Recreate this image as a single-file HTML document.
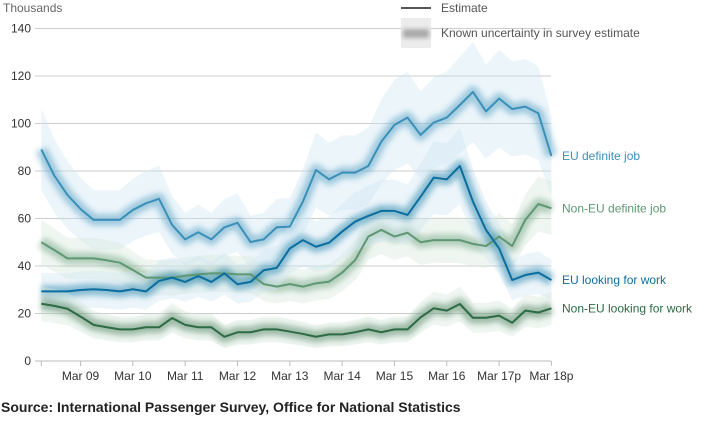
<!DOCTYPE html>
<html><head><meta charset="utf-8"><style>
body{margin:0;background:#fff;width:704px;height:427px;overflow:hidden;font-family:"Liberation Sans",sans-serif;}
svg text{font-family:"Liberation Sans",sans-serif;}
</style></head><body>
<svg id="chart" width="704" height="427" viewBox="0 0 704 427" xmlns="http://www.w3.org/2000/svg">
<defs>
<filter id="blur" x="-10%" y="-50%" width="120%" height="200%"><feGaussianBlur stdDeviation="3"/></filter>
<filter id="blur2" x="-10%" y="-50%" width="120%" height="200%"><feGaussianBlur stdDeviation="2"/></filter>
</defs>
<g id="grid"></g>
<g id="bands"></g>
<g id="lines"></g>
<g id="labels"></g>
<text x="3" y="12" font-size="12" fill="#666">Thousands</text>
<g>
<line x1="401" y1="8" x2="431" y2="8" stroke="#555" stroke-width="2"/>
<text x="441" y="12" font-size="12" fill="#555">Estimate</text>
<rect x="401" y="18" width="30" height="30" fill="#ececec"/>
<rect x="403" y="29" width="26" height="9" fill="#aaa" filter="url(#blur2)"/>
<text x="441" y="37" font-size="12" fill="#555">Known uncertainty in survey estimate</text>
</g>
<text x="1" y="412" font-size="14" font-weight="bold" fill="#222">Source: International Passenger Survey, Office for National Statistics</text>
</svg>
<script>
const yTicks=[0,20,40,60,80,100,120,140];
const xTickLabels=["Mar 09","Mar 10","Mar 11","Mar 12","Mar 13","Mar 14","Mar 15","Mar 16","Mar 17p","Mar 18p"];
const seriesNames=["EU definite job","Non-EU definite job","EU looking for work","Non-EU looking for work"];
const euDefinite=[89.1,78,69.9,64,59.4,59.4,59.4,63.6,66.4,68.3,57.3,51.2,54.2,51.2,56.3,58.2,50.1,51.2,56.3,56.6,67.1,80.4,76.5,79.3,79.3,82.1,92.4,99.4,102.5,95.2,100.4,102.5,107.8,113.3,105.1,110.5,106.1,107.1,104.3,86.3];
const euLooking=[29.3,29.3,29.3,29.9,30.2,29.9,29.3,30.2,29.3,33.7,35.1,33.3,35.8,33.3,36.9,32.3,33.3,38.2,39.2,47.4,50.9,48.1,49.8,54.5,58.7,61.1,63.2,63.2,61.5,69.2,77.2,76.5,82.1,67.1,55.2,47.4,34.1,36.2,37.2,34.1];
const nonEuDefinite=[50,46.7,43.2,43.2,43.2,42.4,41.4,38.3,35.1,35.1,35.1,35.9,36.5,36.9,36.9,36.5,36.5,32.4,31.3,32.4,31.3,32.7,33.4,37.2,42.5,52.4,55.2,52.4,54.0,50.0,50.9,50.9,50.9,49.3,48.4,52.4,48.4,59.4,66.1,64.3];
const nonEuLooking=[24.1,23.2,22.0,18.7,15.2,14.2,13.3,13.3,14.2,14.2,18.1,15.2,14.2,14.2,10.2,12.1,12.1,13.3,13.3,12.4,11.4,10.2,11.2,11.2,12.1,13.3,12.1,13.3,13.3,18.4,22.2,21.2,24.0,18.2,18.2,19.1,16.1,21.2,20.4,22.2];
const NS="http://www.w3.org/2000/svg";
const X0=41.3,DX=13.08,Y0=361,YS=47.5/20;
function xs(i){return X0+i*DX;}
function ys(v){return Y0-v*YS;}
function mk(tag,attrs,parent){const e=document.createElementNS(NS,tag);for(const k in attrs)e.setAttribute(k,attrs[k]);parent.appendChild(e);return e;}
const grid=document.getElementById('grid');
yTicks.forEach(t=>{
  const l=mk('line',{x1:35,x2:551,y1:ys(t),y2:ys(t),stroke:t===0?'#bbb':'#ccc','stroke-width':1},grid);
  
  
  const tx=mk('text',{x:31,y:ys(t)+4,'font-size':12,'text-anchor':'end',fill:'#333'},grid);
  tx.textContent=t;
  
  
});
xTickLabels.forEach((lab,k)=>{
  const x=xs(3+4*k);
  const l=mk('line',{x1:x,x2:x,y1:361,y2:366,stroke:'#bbb'},grid);
  
  
  const tx=mk('text',{x:x,y:380,'font-size':12,'text-anchor':'middle',fill:'#333'},grid);
  tx.textContent=lab;
  
  
});
mk('line',{x1:xs(0),x2:xs(0),y1:361,y2:366,stroke:'#bbb'},grid);
const series=[
 {d:euDefinite,c:'#3a90b8',band:'#cfe6f2',u:0.16,lab:seriesNames[0]},
 {d:nonEuDefinite,c:'#5e9772',band:'#d7e8dc',u:0.13,lab:seriesNames[1]},
 {d:euLooking,c:'#0c6e9e',band:'#cfe6f2',u:0.16,lab:seriesNames[2]},
 {d:nonEuLooking,c:'#2d6b45',band:'#d7e8dc',u:0.18,lab:seriesNames[3]}
];
const bands=document.getElementById('bands'),lines=document.getElementById('lines'),labels=document.getElementById('labels');
series.forEach((s,si)=>{
  const slug=s.lab.toLowerCase().replace(/[^a-z]+/g,'-');
  const up=s.d.map((v,i)=>xs(i)+','+ys(v*(1+s.u)+3)).join(' ');
  const dn=s.d.map((v,i)=>xs(i)+','+ys(Math.max(0,v*(1-s.u)-3))).reverse().join(' ');
  const b=mk('polygon',{points:up+' '+dn,fill:s.band,'fill-opacity':0.4},bands);
  
  
  const pts=s.d.map((v,i)=>xs(i)+','+ys(v)).join(' ');
  const g=mk('polyline',{points:pts,fill:'none',stroke:s.c,'stroke-opacity':0.42,'stroke-width':12,'stroke-linejoin':'round',filter:'url(#blur)'},bands);
  
  
  const l=mk('polyline',{points:pts,fill:'none',stroke:s.c,'stroke-width':2,'stroke-linejoin':'round'},lines);
  
  
  const last=s.d[s.d.length-1];
  const t=mk('text',{x:562,y:ys(last)+4,'font-size':12,fill:s.c},labels);
  t.textContent=s.lab;
  
  
});
</script>
</body></html>
